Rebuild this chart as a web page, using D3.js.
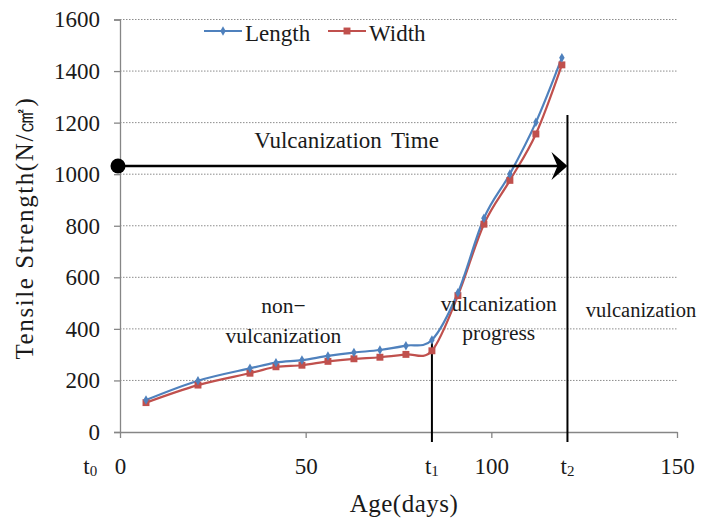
<!DOCTYPE html>
<html>
<head>
<meta charset="utf-8">
<script src="https://cdn.jsdelivr.net/npm/d3@7"></script>
<style>
  html, body { margin: 0; padding: 0; background: #fff; }
  svg { display: block; }
  text { font-family: "Liberation Serif", "DejaVu Serif", serif; fill: #1a1a1a; }
</style>
</head>
<body>
<svg id="chart" width="701" height="518"></svg>
<script>
// ---- data ----
const days = [7, 21, 35, 42, 49, 56, 63, 70, 77, 84, 91, 98, 105, 112, 119];
const lengthValues = [124, 199, 247, 269, 279, 295, 308, 318, 335, 357, 540, 829, 1001, 1201, 1452];
const widthValues  = [114, 182, 228, 253, 259, 274, 284, 290, 301, 315, 529, 806, 976, 1156, 1424];
const seriesNames = ["Length", "Width"];
const yTicks = [0, 200, 400, 600, 800, 1000, 1200, 1400, 1600];
const xTicks = [0, 50, 100, 150];
const timeMarks = [ {name: "t", sub: "0", day: -8}, {name: "t", sub: "1", day: 84}, {name: "t", sub: "2", day: 120.5} ];
const arrowValue = 1032;          // level of the "Vulcanization Time" arrow
const t1LineTop = 355, t2LineTop = 1230;  // top of the t1 / t2 vertical lines (value units)
const regionLabels = [
  {lines: ["non\u2212", "vulcanization"], day: 44, values: [460, 345], size: 21.5},
  {lines: ["vulcanization", "progress"], day: 102, values: [470, 355], size: 21.5},
  {lines: ["vulcanization"], day: 140.3, values: [445], size: 20.5}
];

// ---- layout ----
const svg = d3.select("#chart");
const x = d3.scaleLinear().domain([0, 150]).range([120, 677]);
const y = d3.scaleLinear().domain([0, 1600]).range([432, 19.5]);
const blue = "#4F81BD", red = "#C0504D", axisCol = "#868686";
const fs = 23;

// gridlines
svg.append("g").selectAll("line").data(yTicks.filter(d => d > 0)).join("line")
  .attr("x1", x(0)).attr("x2", x(150))
  .attr("y1", d => y(d)).attr("y2", d => y(d))
  .attr("stroke", "#8c8c8c").attr("stroke-width", 1).attr("stroke-dasharray", "1.5,1.5");

// y axis
const yAxis = svg.append("g").attr("transform", `translate(${x(0)},0)`)
  .call(d3.axisLeft(y).tickValues(yTicks).tickSize(6).tickFormat(d3.format("d")));
yAxis.select(".domain").attr("stroke", axisCol).attr("stroke-width", 1.3);
yAxis.selectAll(".tick line").attr("stroke", axisCol).attr("stroke-width", 1.3);
yAxis.selectAll(".tick text").attr("x", -20).attr("font-size", fs)
  .attr("font-family", "Liberation Serif").attr("fill", "#1a1a1a");

// x axis
const xAxis = svg.append("g").attr("transform", `translate(0,${y(0)})`)
  .call(d3.axisBottom(x).tickValues(xTicks).tickSize(6).tickSizeOuter(0).tickFormat(d3.format("d")));
xAxis.select(".domain").attr("stroke", axisCol).attr("stroke-width", 1.3);
xAxis.selectAll(".tick line").attr("stroke", axisCol).attr("stroke-width", 1.3);
xAxis.selectAll(".tick text").attr("y", 0).attr("dy", 0)
  .attr("transform", "translate(0,42)").attr("font-size", fs)
  .attr("font-family", "Liberation Serif").attr("fill", "#1a1a1a");

// t1 and t2 vertical lines
svg.append("line").attr("x1", x(84)).attr("x2", x(84))
  .attr("y1", y(t1LineTop)).attr("y2", y(0) + 10)
  .attr("stroke", "#000").attr("stroke-width", 2);
svg.append("line").attr("x1", x(120.5)).attr("x2", x(120.5))
  .attr("y1", y(t2LineTop)).attr("y2", y(0) + 10)
  .attr("stroke", "#000").attr("stroke-width", 2);

// time mark labels
const tm = svg.append("g").selectAll("text").data(timeMarks).join("text")
  .attr("x", d => x(d.day)).attr("y", y(0) + 42)
  .attr("text-anchor", "middle").attr("font-size", fs);
tm.append("tspan").text(d => d.name);
tm.append("tspan").attr("font-size", 15).attr("dy", 2).text(d => d.sub);

// series lines
const line = d3.line().x(d => x(d[0])).y(d => y(d[1])).curve(d3.curveCardinal.tension(0));
const lenData = days.map((d, i) => [d, lengthValues[i]]);
const widData = days.map((d, i) => [d, widthValues[i]]);

svg.append("path").datum(widData).attr("d", line)
  .attr("fill", "none").attr("stroke", red).attr("stroke-width", 2.2);
svg.append("path").datum(lenData).attr("d", line)
  .attr("fill", "none").attr("stroke", blue).attr("stroke-width", 2.2);

svg.append("g").selectAll("path").data(widData).join("path")
  .attr("transform", d => `translate(${x(d[0])},${y(d[1])})`)
  .attr("d", d3.symbol(d3.symbolSquare, 48)).attr("fill", red);
svg.append("g").selectAll("path").data(lenData).join("path")
  .attr("transform", d => `translate(${x(d[0])},${y(d[1])})`)
  .attr("d", d3.symbol(d3.symbolDiamond, 26)).attr("fill", blue);

// arrow
const ay = y(arrowValue);
svg.append("line").attr("x1", x(0) - 2).attr("x2", x(120.5) - 8)
  .attr("y1", ay).attr("y2", ay).attr("stroke", "#000").attr("stroke-width", 2.6);
const tipX = x(120.5);
svg.append("path")
  .attr("d", `M${tipX},${ay} L${tipX - 16},${ay - 14} L${tipX - 10},${ay} L${tipX - 16},${ay + 14} Z`)
  .attr("fill", "#000");
svg.append("circle").attr("cx", x(0) - 2).attr("cy", ay).attr("r", 7.5).attr("fill", "#000");
svg.append("text").attr("x", x(61)).attr("y", y(1100)).attr("text-anchor", "middle")
  .attr("font-size", fs).attr("word-spacing", 4).text("Vulcanization Time");

// region labels
regionLabels.forEach(r => {
  r.lines.forEach((t, i) => {
    svg.append("text").attr("x", x(r.day)).attr("y", y(r.values[i]))
      .attr("text-anchor", "middle").attr("font-size", r.size).text(t);
  });
});

// legend
const leg = svg.append("g");
const legItems = [
  {name: seriesNames[0], color: blue, x0: 204, sym: d3.symbolDiamond, size: 26},
  {name: seriesNames[1], color: red, x0: 328, sym: d3.symbolSquare, size: 48}
];
legItems.forEach(it => {
  leg.append("line").attr("x1", it.x0).attr("x2", it.x0 + 38).attr("y1", 31).attr("y2", 31)
    .attr("stroke", it.color).attr("stroke-width", 2.2);
  leg.append("path").attr("transform", `translate(${it.x0 + 19},31)`)
    .attr("d", d3.symbol(it.sym, it.size)).attr("fill", it.color);
  leg.append("text").attr("x", it.x0 + 41).attr("y", 41).attr("font-size", fs).text(it.name);
});

// axis titles
svg.append("text").attr("x", 404).attr("y", 512).attr("text-anchor", "middle")
  .attr("font-size", 25).attr("letter-spacing", 0.5).text("Age(days)");
svg.append("text").attr("transform", "translate(33,228) rotate(-90)")
  .attr("text-anchor", "middle").attr("font-size", 25).attr("letter-spacing", 1.6)
  .text("Tensile Strength(N/\u33A0)");
</script>
</body>
</html>
